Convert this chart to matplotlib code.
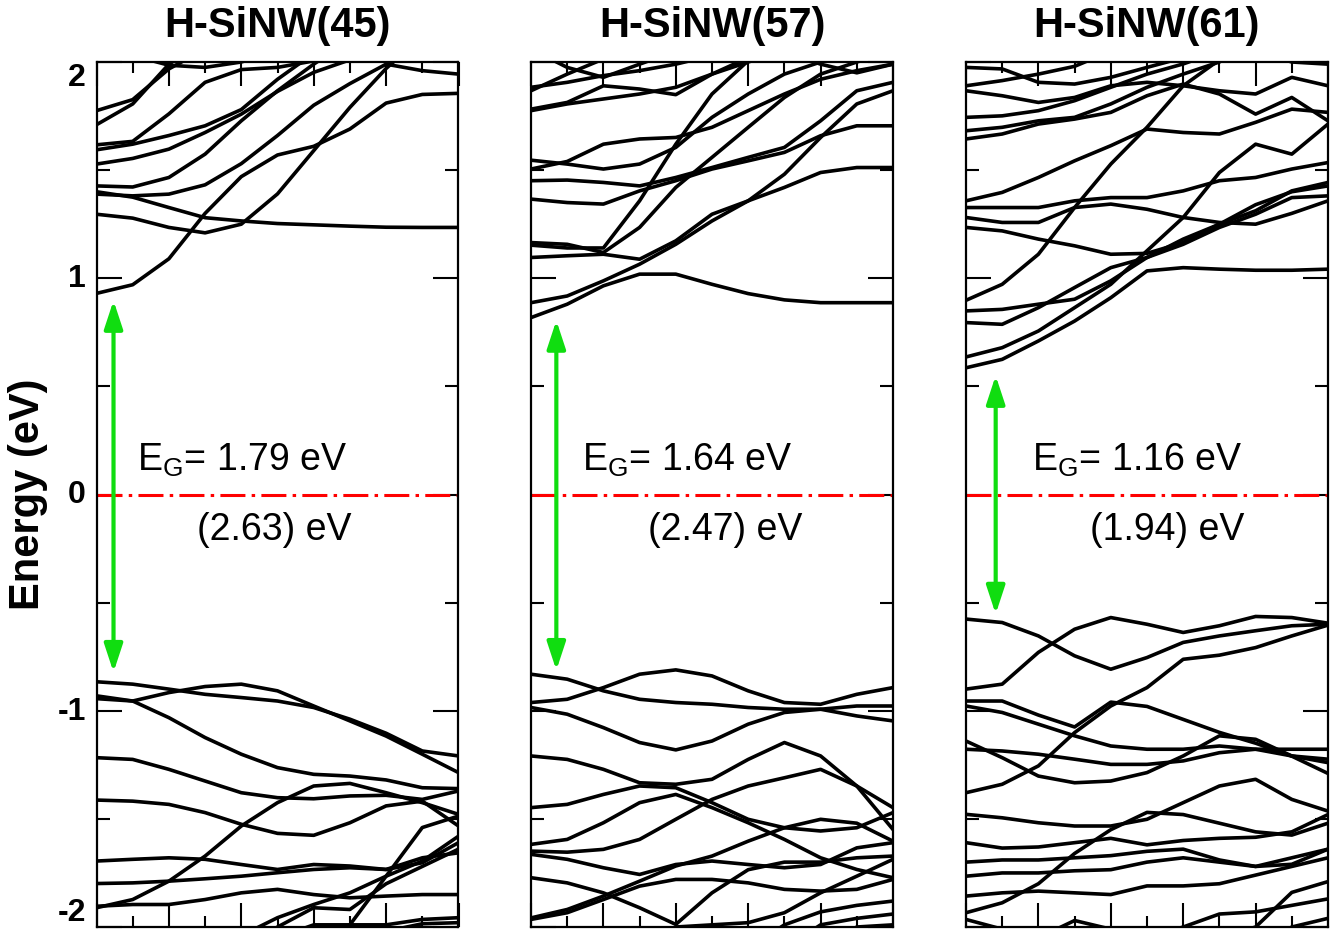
import matplotlib
matplotlib.use('Agg')
import matplotlib.pyplot as plt
from matplotlib.ticker import MultipleLocator, FixedLocator

plt.rcParams['font.family'] = ['Liberation Sans', 'DejaVu Sans']
plt.rcParams['mathtext.fontset'] = 'custom'
plt.rcParams['mathtext.rm'] = 'Liberation Sans'
plt.rcParams['axes.unicode_minus'] = False
plt.rcParams['lines.scale_dashes'] = False

# k-path samples (fraction of the zone)
kpts = [0.0, 0.1, 0.2, 0.3, 0.4, 0.5, 0.6, 0.7, 0.8, 0.9, 1.0]

titles = ['H-SiNW(45)', 'H-SiNW(57)', 'H-SiNW(61)']
gap_labels = ['1.79', '1.64', '1.16']
gap_other = ['(2.63)', '(2.47)', '(1.94)']
ytick_vals = [-2, -1, 0, 1, 2]
ytick_text = ['-2', '-1', '0', '1', '2']
ytick_va = ['bottom', 'center', 'center', 'center', 'top']

# band energies (eV) read at each k sample; values past +/-2 get clipped
cond_45 = [
    [0.93, 0.97, 1.09, 1.30, 1.47, 1.57, 1.61, 1.69, 1.81, 1.85, 1.855],
    [1.296, 1.278, 1.235, 1.21, 1.25, 1.39, 1.59, 1.79, 1.97, 2.12, 2.25],
    [1.40, 1.375, 1.327, 1.28, 1.265, 1.253, 1.247, 1.241, 1.236, 1.235, 1.235],
    [1.427, 1.422, 1.466, 1.574, 1.728, 1.867, 1.99, 2.1, 2.2, 2.3, 2.4],
    [1.389, 1.381, 1.389, 1.432, 1.53, 1.66, 1.80, 1.90, 1.99, 1.96, 1.944],
    [1.528, 1.554, 1.597, 1.674, 1.759, 1.864, 1.952, 2.01, 2.06, 2.1, 2.12],
    [1.594, 1.62, 1.66, 1.705, 1.78, 1.92, 2.04, 2.1, 2.15, 2.2, 2.2],
    [1.617, 1.633, 1.76, 1.906, 1.965, 1.975, 2.005, 2.03, 2.05, 2.05, 2.05],
    [1.775, 1.826, 1.968, 2.06, 2.1, 2.15, 2.2, 2.2, 2.2, 2.2, 2.2],
    [1.71, 1.806, 1.99, 2.1, 2.15, 2.2, 2.2, 2.2, 2.2, 2.2, 2.2],
    [2.1, 2.03, 1.985, 1.975, 2.0, 2.05, 2.1, 2.1, 2.1, 2.1, 2.1],
]
val_45 = [
    [-0.866, -0.877, -0.900, -0.924, -0.939, -0.955, -0.985, -1.039, -1.104, -1.186, -1.209],
    [-0.944, -0.955, -0.916, -0.888, -0.877, -0.908, -0.978, -1.047, -1.117, -1.201, -1.286],
    [-0.931, -0.955, -1.032, -1.124, -1.201, -1.263, -1.294, -1.302, -1.32, -1.356, -1.36],
    [-1.217, -1.225, -1.271, -1.325, -1.379, -1.402, -1.407, -1.394, -1.391, -1.41, -1.371],
    [-1.413, -1.418, -1.433, -1.471, -1.525, -1.567, -1.576, -1.518, -1.44, -1.418, -1.533],
    [-1.911, -1.873, -1.788, -1.672, -1.533, -1.425, -1.348, -1.336, -1.379, -1.425, -1.479],
    [-1.695, -1.687, -1.68, -1.687, -1.711, -1.734, -1.711, -1.718, -1.734, -1.703, -1.61],
    [-1.799, -1.796, -1.788, -1.777, -1.765, -1.749, -1.734, -1.726, -1.734, -1.68, -1.657],
    [-1.904, -1.896, -1.896, -1.873, -1.842, -1.826, -1.85, -1.865, -1.857, -1.85, -1.85],
    [-2.3, -2.2, -2.15, -2.1, -2.04, -1.957, -1.896, -1.842, -1.765, -1.695, -1.58],
    [-2.3, -2.3, -2.2, -2.15, -2.1, -2.0, -1.911, -1.919, -1.80, -1.72, -1.64],
    [-2.6, -2.6, -2.5, -2.4, -2.3, -2.2, -2.1, -1.99, -1.765, -1.54, -1.487],
    [-2.3, -2.3, -2.2, -2.15, -2.1, -2.05, -1.99, -1.99, -1.99, -1.965, -1.957],
    [-2.3, -2.3, -2.3, -2.2, -2.2, -2.1, -2.08, -2.05, -2.02, -1.985, -1.98],
]

cond_57 = [
    [0.818, 0.880, 0.965, 1.019, 1.019, 0.972, 0.929, 0.900, 0.887, 0.887, 0.887],
    [0.887, 0.918, 0.988, 1.065, 1.157, 1.265, 1.358, 1.481, 1.651, 1.806, 1.867],
    [1.165, 1.157, 1.119, 1.235, 1.42, 1.559, 1.698, 1.836, 1.944, 2.0, 2.05],
    [1.096, 1.104, 1.111, 1.088, 1.173, 1.296, 1.358, 1.42, 1.489, 1.512, 1.512],
    [1.366, 1.35, 1.343, 1.404, 1.451, 1.505, 1.543, 1.582, 1.659, 1.705, 1.705],
    [1.451, 1.454, 1.443, 1.427, 1.466, 1.512, 1.559, 1.605, 1.728, 1.867, 1.906],
    [1.153, 1.14, 1.14, 1.358, 1.62, 1.852, 2.006, 2.1, 2.15, 2.2, 2.2],
    [1.505, 1.54, 1.62, 1.644, 1.651, 1.698, 1.775, 1.852, 1.92, 1.96, 1.99],
    [1.546, 1.528, 1.505, 1.528, 1.605, 1.744, 1.852, 1.944, 2.0, 2.05, 2.1],
    [1.775, 1.806, 1.829, 1.852, 1.883, 1.944, 2.0, 2.05, 2.1, 2.1, 2.1],
    [1.782, 1.813, 1.89, 1.875, 1.849, 1.944, 2.02, 2.1, 2.1, 2.1, 2.1],
    [1.883, 1.906, 1.937, 1.96, 1.99, 2.03, 2.07, 2.1, 2.1, 2.1, 2.1],
    [1.867, 1.944, 2.014, 2.08, 2.1, 2.1, 2.1, 2.1, 2.1, 2.1, 2.1],
    [2.06, 1.975, 1.929, 1.99, 2.05, 2.1, 2.1, 2.1, 2.1, 2.1, 2.1],
    [2.1, 2.1, 2.1, 2.1, 2.1, 2.1, 2.1, 2.05, 1.99, 1.95, 1.99],
]
val_57 = [
    [-0.831, -0.854, -0.908, -0.947, -0.962, -0.970, -0.985, -0.993, -0.993, -0.978, -0.978],
    [-0.962, -0.947, -0.893, -0.831, -0.811, -0.839, -0.908, -0.962, -0.970, -0.924, -0.893],
    [-0.985, -1.016, -1.078, -1.147, -1.181, -1.14, -1.062, -1.008, -0.993, -1.024, -1.047],
    [-1.209, -1.225, -1.271, -1.333, -1.34, -1.317, -1.225, -1.147, -1.209, -1.348, -1.448],
    [-1.448, -1.433, -1.387, -1.348, -1.356, -1.425, -1.502, -1.541, -1.556, -1.541, -1.471],
    [-1.618, -1.595, -1.518, -1.425, -1.387, -1.448, -1.518, -1.595, -1.68, -1.734, -1.772],
    [-1.649, -1.654, -1.641, -1.595, -1.502, -1.41, -1.348, -1.31, -1.271, -1.348, -1.549],
    [-1.664, -1.687, -1.726, -1.757, -1.711, -1.695, -1.711, -1.726, -1.711, -1.634, -1.61],
    [-1.772, -1.796, -1.842, -1.911, -1.988, -1.842, -1.735, -1.70, -1.70, -1.68, -1.672],
    [-1.958, -1.919, -1.857, -1.788, -1.718, -1.672, -1.603, -1.541, -1.502, -1.52, -1.603],
    [-1.965, -1.934, -1.873, -1.811, -1.78, -1.78, -1.796, -1.826, -1.834, -1.826, -1.78],
    [-2.2, -2.2, -2.15, -2.1, -2.0, -1.99, -1.98, -1.934, -1.842, -1.765, -1.687],
    [-2.3, -2.3, -2.3, -2.2, -2.2, -2.15, -2.1, -1.99, -1.93, -1.90, -1.88],
    [-2.3, -2.3, -2.3, -2.3, -2.2, -2.2, -2.15, -2.1, -1.99, -1.96, -1.94],
    [-2.3, -2.3, -2.3, -2.3, -2.3, -2.2, -2.2, -2.15, -2.1, -2.0, -1.99],
]

cond_61 = [
    [0.586, 0.625, 0.71, 0.802, 0.91, 1.034, 1.049, 1.042, 1.037, 1.037, 1.042],
    [0.636, 0.679, 0.756, 0.864, 0.972, 1.127, 1.281, 1.489, 1.62, 1.574, 1.713],
    [0.795, 0.787, 0.864, 0.957, 1.049, 1.096, 1.157, 1.235, 1.296, 1.373, 1.381],
    [0.849, 0.856, 0.88, 0.903, 0.988, 1.096, 1.181, 1.25, 1.312, 1.404, 1.443],
    [0.898, 0.972, 1.111, 1.327, 1.528, 1.698, 1.89, 2.01, 2.1, 2.1, 2.1],
    [1.235, 1.219, 1.181, 1.15, 1.111, 1.115, 1.165, 1.25, 1.34, 1.40, 1.427],
    [1.358, 1.397, 1.466, 1.543, 1.613, 1.69, 1.674, 1.667, 1.721, 1.782, 1.767],
    [1.327, 1.327, 1.327, 1.358, 1.373, 1.373, 1.404, 1.451, 1.466, 1.505, 1.535],
    [1.281, 1.258, 1.258, 1.327, 1.343, 1.319, 1.281, 1.258, 1.25, 1.30, 1.358],
    [1.644, 1.667, 1.713, 1.736, 1.767, 1.844, 1.898, 1.852, 1.759, 1.836, 1.728],
    [1.682, 1.698, 1.728, 1.744, 1.806, 1.883, 1.944, 2.0, 2.1, 2.1, 2.1],
    [1.744, 1.751, 1.775, 1.821, 1.883, 1.944, 1.991, 2.05, 2.1, 2.1, 2.1],
    [1.867, 1.844, 1.813, 1.836, 1.89, 1.906, 1.89, 1.867, 1.852, 1.929, 1.89],
    [1.89, 1.914, 1.944, 1.98, 2.05, 2.1, 2.1, 2.1, 2.1, 2.1, 2.1],
    [1.975, 1.968, 1.906, 1.898, 1.929, 1.975, 2.02, 2.05, 2.05, 2.0, 1.99],
]
val_61 = [
    [-0.576, -0.592, -0.654, -0.746, -0.808, -0.754, -0.684, -0.654, -0.630, -0.607, -0.60],
    [-0.900, -0.877, -0.73, -0.623, -0.569, -0.60, -0.638, -0.607, -0.564, -0.569, -0.595],
    [-1.379, -1.34, -1.255, -1.101, -0.978, -0.893, -0.762, -0.743, -0.708, -0.654, -0.604],
    [-0.955, -0.955, -1.02, -1.075, -0.96, -0.98, -1.04, -1.10, -1.15, -1.21, -1.29],
    [-0.978, -1.008, -1.062, -1.116, -1.163, -1.178, -1.178, -1.163, -1.178, -1.178, -1.178],
    [-1.14, -1.217, -1.302, -1.333, -1.325, -1.286, -1.209, -1.116, -1.132, -1.209, -1.24],
    [-1.178, -1.186, -1.201, -1.224, -1.248, -1.248, -1.232, -1.194, -1.178, -1.209, -1.224],
    [-1.479, -1.495, -1.518, -1.533, -1.533, -1.502, -1.425, -1.348, -1.317, -1.41, -1.464],
    [-1.61, -1.635, -1.63, -1.61, -1.59, -1.62, -1.60, -1.59, -1.585, -1.56, -1.48],
    [-1.934, -1.888, -1.80, -1.66, -1.55, -1.47, -1.48, -1.52, -1.56, -1.575, -1.52],
    [-1.70, -1.69, -1.69, -1.68, -1.67, -1.65, -1.64, -1.69, -1.72, -1.71, -1.64],
    [-1.765, -1.75, -1.75, -1.74, -1.735, -1.70, -1.68, -1.70, -1.72, -1.68, -1.64],
    [-1.857, -1.842, -1.834, -1.842, -1.85, -1.81, -1.81, -1.80, -1.76, -1.72, -1.68],
    [-2.3, -2.3, -2.2, -2.2, -2.1, -2.05, -2.0, -1.94, -1.93, -1.90, -1.87],
    [-2.4, -2.4, -2.3, -2.3, -2.2, -2.2, -2.1, -2.05, -2.0, -1.84, -1.79],
    [-2.4, -2.4, -2.4, -2.3, -2.3, -2.3, -2.2, -2.2, -2.1, -2.0, -1.96],
    [-1.965, -2.01, -2.1, -2.2, -2.3, -2.3, -2.3, -2.3, -2.3, -2.3, -2.3],
    [-2.2, -2.1, -2.05, -1.97, -2.01, -2.1, -2.2, -2.3, -2.3, -2.3, -2.3],
]

# gap arrows: (k position, top tip, bottom tip)
arrow_k = [0.047, 0.070, 0.082]
arrow_top = [0.897, 0.805, 0.55]
arrow_bot = [-0.822, -0.813, -0.553]
label_k = [0.112, 0.141, 0.182]
paren_k = [0.277, 0.323, 0.343]

panels = [(cond_45, val_45), (cond_57, val_57), (cond_61, val_61)]
lefts = [96.5 / 1330, 531 / 1330, 966 / 1330]

fig = plt.figure(figsize=(13.3, 9.45), dpi=100)

for i, (cond, val) in enumerate(panels):
    ax = fig.add_axes([lefts[i], 17 / 945, 362 / 1330, 865 / 945])
    for band in cond + val:
        ax.plot(kpts, band, color='black', lw=2.6, solid_joinstyle='round')

    ax.axhline(0, color='red', lw=2.2, linestyle=(0, (18, 4.5, 2.5, 4.5)))

    ax.annotate('', xy=(arrow_k[i], arrow_top[i]), xytext=(arrow_k[i], arrow_bot[i]),
                arrowprops=dict(arrowstyle='<|-|>,head_length=0.85,head_width=0.28',
                                color='#10dd10', lw=3, mutation_scale=20,
                                shrinkA=0, shrinkB=0))

    ax.text(label_k[i], 0.113, 'E$_\\mathregular{G}$= ' + gap_labels[i] + ' eV',
            fontsize=27, va='baseline', ha='left')
    ax.text(paren_k[i], -0.205, gap_other[i] + ' eV',
            fontsize=27, va='baseline', ha='left')

    ax.set_xlim(0, 1)
    ax.set_ylim(-2, 2)
    ax.set_title(titles[i], fontsize=30, fontweight='bold', pad=19)

    ax.xaxis.set_major_locator(MultipleLocator(0.2))
    ax.xaxis.set_minor_locator(MultipleLocator(0.1))
    ax.yaxis.set_major_locator(FixedLocator(ytick_vals))
    ax.yaxis.set_minor_locator(MultipleLocator(0.5))
    ax.tick_params(which='both', direction='in', top=True, right=True, width=1.5,
                   labelbottom=False, labelleft=False)
    ax.tick_params(axis='x', which='major', length=17)
    ax.tick_params(axis='x', which='minor', length=8)
    ax.tick_params(axis='y', which='major', length=18)
    ax.tick_params(axis='y', which='minor', length=9.5)
    if i == 0:
        # y tick labels, drawn at the tick heights just outside the left spine
        for v, s, va in zip(ytick_vals, ytick_text, ytick_va):
            ax.text(-0.03, v, s, transform=ax.get_yaxis_transform(),
                    ha='right', va=va, fontsize=23, fontweight='bold',
                    clip_on=False)
    for sp in ax.spines.values():
        sp.set_linewidth(1.6)

fig.text(28 / 1330, 1 - 494 / 945, 'Energy (eV)', rotation=90, fontsize=30,
         fontweight='bold', ha='center', va='center')

fig.savefig('out.png', dpi=100)
